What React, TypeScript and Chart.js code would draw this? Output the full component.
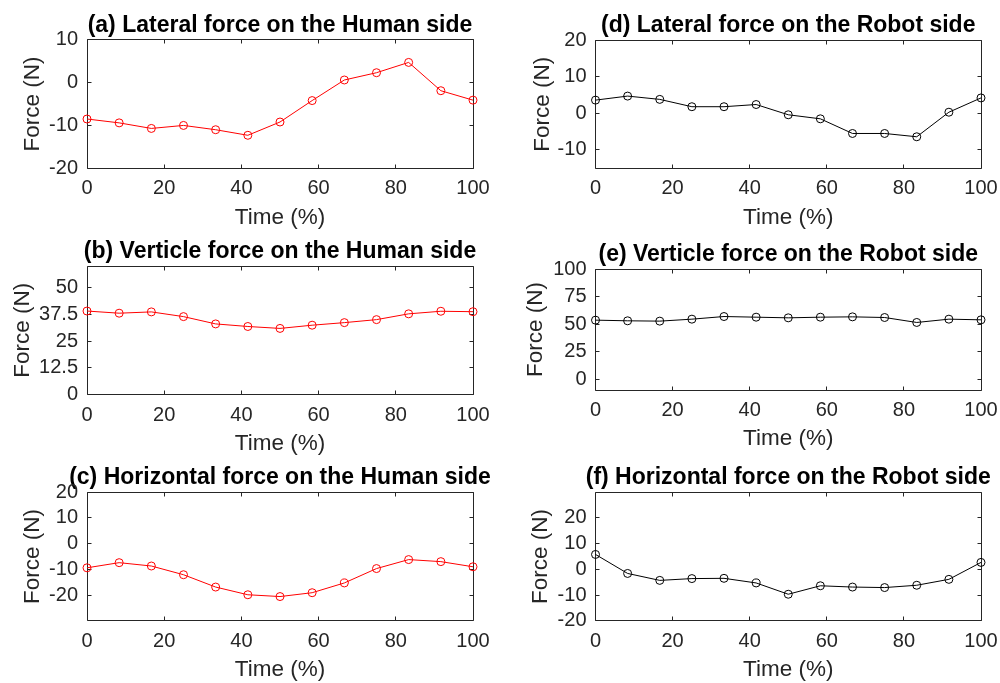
import React, { useEffect, useRef } from "react";
import { Chart, registerables } from "chart.js";

Chart.register(...registerables);

// ---------------- data ----------------
const timePct = [0, 8.33, 16.67, 25, 33.33, 41.67, 50, 58.33, 66.67, 75, 83.33, 91.67, 100];
const xTickValues = [0, 20, 40, 60, 80, 100];

const lateralHuman = [-8.5, -9.4, -10.7, -10.0, -11.0, -12.3, -9.2, -4.2, 0.6, 2.3, 4.7, -1.9, -4.1];
const verticalHuman = [39.0, 38.0, 38.6, 36.4, 33.0, 31.8, 30.9, 32.4, 33.6, 35.0, 37.7, 38.9, 38.7];
const horizontalHuman = [-9.4, -7.4, -8.7, -12.1, -16.9, -19.9, -20.6, -19.1, -15.3, -9.7, -6.2, -7.0, -9.0];
const lateralRobot = [3.6, 4.7, 3.8, 1.8, 1.8, 2.4, -0.4, -1.5, -5.5, -5.5, -6.4, 0.3, 4.2];
const verticalRobot = [53.5, 52.9, 52.6, 54.4, 56.8, 56.2, 55.6, 56.2, 56.5, 55.9, 51.4, 54.4, 53.8];
const horizontalRobot = [5.8, -1.6, -4.3, -3.6, -3.5, -5.3, -9.7, -6.4, -6.9, -7.1, -6.2, -3.9, 2.7];

const yTicksA = [-20, -10, 0, 10];
const yTicksB = [0, 12.5, 25, 37.5, 50];
const yTicksC = [-20, -10, 0, 10, 20];
const yTicksD = [-10, 0, 10, 20];
const yTicksE = [0, 25, 50, 75, 100];
const yTicksF = [-20, -10, 0, 10, 20];

const titles = [
  "(a) Lateral force on the Human side",
  "(b) Verticle force on the Human side",
  "(c) Horizontal force on the Human side",
  "(d) Lateral force on the Robot side",
  "(e) Verticle force on the Robot side",
  "(f) Horizontal force on the Robot side",
];
const xLabel = "Time (%)";
const yLabel = "Force (N)";

const RED = "#ff0000";
const BLACK = "#000000";
const AXIS = "#262626";
const FONT = "'Liberation Sans', Arial, Helvetica, sans-serif";

// ---------------- layout ----------------
type Panel = {
  title: string;
  values: number[];
  color: string;
  yMin: number;
  yMax: number;
  yTicks: number[];
  plot: { left: number; right: number; top: number; bottom: number };
  canvasLeft: number;
  canvasTop: number;
  ylabelOffset: number;
};

const panels: Panel[] = [
  { title: titles[0], values: lateralHuman, color: RED, yMin: -20, yMax: 10, yTicks: yTicksA,
    plot: { left: 87, right: 473, top: 39.7, bottom: 168.3 }, canvasLeft: 0, canvasTop: 0, ylabelOffset: 54 },
  { title: titles[1], values: verticalHuman, color: RED, yMin: 0, yMax: 60, yTicks: yTicksB,
    plot: { left: 87, right: 473, top: 266, bottom: 394.7 }, canvasLeft: 0, canvasTop: 228, ylabelOffset: 64.5 },
  { title: titles[2], values: horizontalHuman, color: RED, yMin: -30, yMax: 20, yTicks: yTicksC,
    plot: { left: 87, right: 473, top: 492.3, bottom: 620.7 }, canvasLeft: 0, canvasTop: 455, ylabelOffset: 54.5 },
  { title: titles[3], values: lateralRobot, color: BLACK, yMin: -15, yMax: 20, yTicks: yTicksD,
    plot: { left: 595.5, right: 981, top: 40, bottom: 168.3 }, canvasLeft: 500, canvasTop: 0, ylabelOffset: 52.5 },
  { title: titles[4], values: verticalRobot, color: BLACK, yMin: -10, yMax: 100, yTicks: yTicksE,
    plot: { left: 595.5, right: 981, top: 269, bottom: 390 }, canvasLeft: 500, canvasTop: 228, ylabelOffset: 59.5 },
  { title: titles[5], values: horizontalRobot, color: BLACK, yMin: -20, yMax: 30, yTicks: yTicksF,
    plot: { left: 595.5, right: 981, top: 492.3, bottom: 620.7 }, canvasLeft: 500, canvasTop: 455, ylabelOffset: 54.5 },
];

const Y_AXIS_W = 80;
const X_AXIS_H = 64;
const TITLE_SIZE = 23;
const TICK_SIZE = 20;
const LABEL_SIZE = 22.5;
const TITLE_GAP = 14.5; // title middle above plot top
const TITLE_PAD_BOTTOM = TITLE_GAP - (TITLE_SIZE * 1.2) / 2;
const TITLE_BLOCK = TITLE_SIZE * 1.2 + TITLE_PAD_BOTTOM;
const CANVAS_W = 580;

const snap = (v: number) => Math.round(v - 0.5) + 0.5;

const matlabBox = {
  id: "matlabBox",
  beforeDatasetsDraw(chart: any, _args: any, opts: any) {
    const { ctx, chartArea: a, scales } = chart;
    const L = snap(a.left), R = snap(a.right), T = snap(a.top), B = snap(a.bottom);
    ctx.save();
    ctx.strokeStyle = AXIS;
    ctx.lineWidth = 1;
    ctx.beginPath();
    ctx.rect(L, T, R - L, B - T);
    const len = 4;
    for (const v of xTickValues) {
      const x = snap(scales.x.getPixelForValue(v));
      ctx.moveTo(x, B); ctx.lineTo(x, B - len);
      ctx.moveTo(x, T); ctx.lineTo(x, T + len);
    }
    for (const v of opts.yTicks as number[]) {
      const y = snap(scales.y.getPixelForValue(v));
      ctx.moveTo(L, y); ctx.lineTo(L + len, y);
      ctx.moveTo(R, y); ctx.lineTo(R - len, y);
    }
    ctx.stroke();
    ctx.restore();
  },
};

function PanelChart({ p }: { p: Panel }) {
  const ref = useRef<HTMLCanvasElement>(null);
  const h = Math.ceil(p.plot.bottom + X_AXIS_H + 2 - p.canvasTop);
  const padL = p.plot.left - p.canvasLeft - Y_AXIS_W;
  // a blank right-hand axis of the same width keeps the full-width title centred over the plot
  const padR = p.canvasLeft + CANVAS_W - p.plot.right - Y_AXIS_W;
  const padT = p.plot.top - p.canvasTop - TITLE_BLOCK;
  const padB = p.canvasTop + h - p.plot.bottom - X_AXIS_H;

  useEffect(() => {
    const chart = new Chart(ref.current!, {
      type: "line",
      data: {
        datasets: [
          {
            data: timePct.map((t, i) => ({ x: t, y: p.values[i] })),
            borderColor: p.color,
            borderWidth: 1,
            pointStyle: "circle",
            pointRadius: 4,
            pointBorderWidth: 1,
            pointBorderColor: p.color,
            pointBackgroundColor: "rgba(0,0,0,0)",
            tension: 0,
            clip: false as any,
          },
        ],
      },
      options: {
        animation: false,
        responsive: false,
        devicePixelRatio: 1,
        layout: {
          autoPadding: false,
          padding: { left: padL, right: padR, top: padT, bottom: padB },
        },
        plugins: {
          legend: { display: false },
          tooltip: { enabled: false },
          title: {
            display: true,
            text: p.title,
            fullSize: true,
            color: "#000000",
            font: { family: FONT, size: TITLE_SIZE, weight: "bold" },
            padding: { top: 0, bottom: TITLE_PAD_BOTTOM },
          },
          matlabBox: { yTicks: p.yTicks },
        } as any,
        scales: {
          x: {
            type: "linear",
            position: "bottom",
            min: 0,
            max: 100,
            grid: { display: false, drawTicks: false },
            border: { display: false },
            afterBuildTicks: (s: any) => { s.ticks = xTickValues.map((v) => ({ value: v })); },
            afterFit: (s: any) => {
              s.height = X_AXIS_H;
              s.paddingLeft = 0; s.paddingRight = 0; s.paddingTop = 0; s.paddingBottom = 0;
            },
            ticks: {
              autoSkip: false,
              maxRotation: 0,
              padding: 8.5,
              color: AXIS,
              font: { family: FONT, size: TICK_SIZE },
            },
            title: {
              display: true,
              text: xLabel,
              color: AXIS,
              font: { family: FONT, size: LABEL_SIZE },
              padding: { top: 0, bottom: X_AXIS_H - 49 - (LABEL_SIZE * 1.2) / 2 },
            },
          },
          y: {
            type: "linear",
            position: "left",
            min: p.yMin,
            max: p.yMax,
            grid: { display: false, drawTicks: false },
            border: { display: false },
            afterBuildTicks: (s: any) => { s.ticks = p.yTicks.map((v) => ({ value: v })); },
            afterFit: (s: any) => {
              s.width = Y_AXIS_W;
              s.paddingLeft = 0; s.paddingRight = 0; s.paddingTop = 0; s.paddingBottom = 0;
            },
            ticks: {
              autoSkip: false,
              padding: 9,
              color: AXIS,
              font: { family: FONT, size: TICK_SIZE },
              callback: (v: any) => String(v),
            },
            title: {
              display: true,
              text: yLabel,
              color: AXIS,
              font: { family: FONT, size: LABEL_SIZE },
              padding: { top: Y_AXIS_W - p.ylabelOffset - (LABEL_SIZE * 1.2) / 2, bottom: 0 },
            },
          },
          yBlank: {
            type: "linear",
            position: "right",
            min: 0,
            max: 1,
            grid: { display: false, drawTicks: false },
            border: { display: false },
            ticks: { display: false },
            afterFit: (s: any) => {
              s.width = Y_AXIS_W;
              s.paddingLeft = 0; s.paddingRight = 0; s.paddingTop = 0; s.paddingBottom = 0;
            },
          },
        },
      },
      plugins: [matlabBox],
    });
    return () => chart.destroy();
  }, []);

  return (
    <canvas
      ref={ref}
      width={CANVAS_W}
      height={h}
      style={{ position: "absolute", left: p.canvasLeft, top: p.canvasTop, width: CANVAS_W, height: h }}
    />
  );
}

export default function App() {
  return (
    <div
      style={{
        position: "absolute",
        left: 0,
        top: 0,
        width: 1000,
        height: 683,
        overflow: "hidden",
        background: "#ffffff",
      }}
    >
      {panels.map((p, i) => (
        <PanelChart key={i} p={p} />
      ))}
    </div>
  );
}
